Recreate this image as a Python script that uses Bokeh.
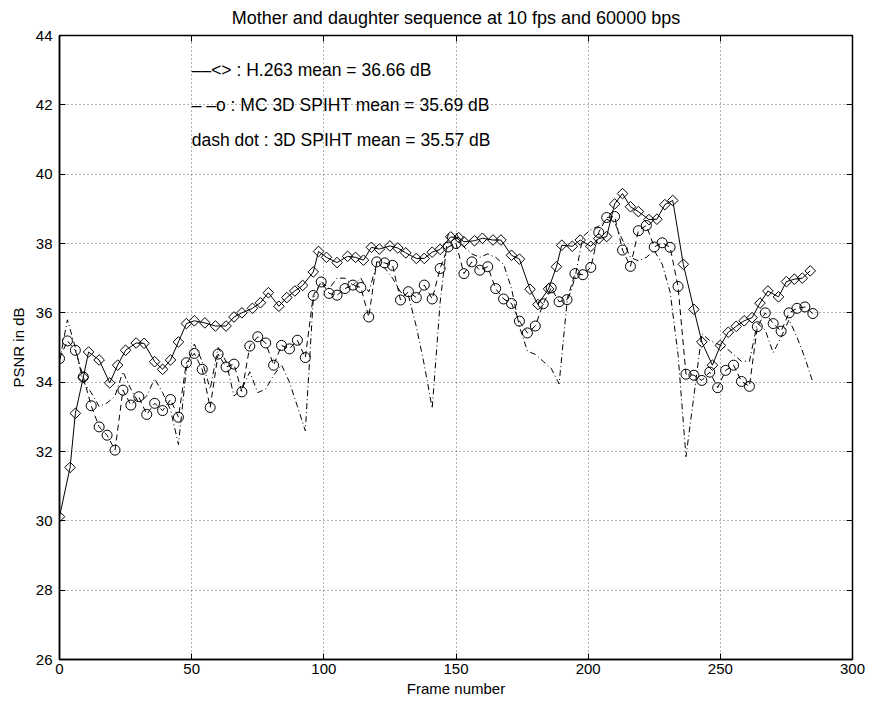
import numpy as np
from bokeh.plotting import figure
from bokeh.models import Range1d, FixedTicker, LinearAxis, ColumnDataSource
from bokeh.embed import file_html
from bokeh.resources import INLINE
from bokeh.core.properties import value

# ---------------- data ----------------
h263_frames = [0, 4, 6, 9, 11, 15, 19, 22, 25, 29, 32, 36, 39, 42, 45, 48, 51, 55, 59, 63,
               66, 69, 73, 76, 79, 83, 86, 89, 92, 96, 98, 101, 105, 109, 112, 115, 118, 121, 125, 128,
               131, 135, 138, 141, 144, 148, 151, 153, 157, 160, 164, 167, 171, 174, 178, 181, 185, 188, 190, 194,
               197, 201, 204, 207, 210, 213, 216, 219, 223, 226, 229, 232, 236, 240, 243, 247, 250, 253, 256, 259,
               262, 265, 268, 272, 275, 278, 281, 284]
h263_psnr = [30.12, 31.54, 33.10, 34.14, 34.87, 34.64, 33.98, 34.49, 34.92, 35.13, 35.12, 34.59, 34.37, 34.64, 35.16, 35.69, 35.77, 35.71, 35.62, 35.62,
             35.88, 36.00, 36.13, 36.29, 36.58, 36.19, 36.44, 36.63, 36.79, 37.18, 37.77, 37.60, 37.45, 37.63, 37.60, 37.52, 37.89, 37.84, 37.93, 37.87,
             37.73, 37.57, 37.57, 37.75, 37.83, 38.19, 38.17, 38.05, 38.08, 38.15, 38.10, 38.10, 37.66, 37.55, 36.68, 36.24, 36.69, 37.33, 37.95, 37.92,
             38.10, 37.92, 38.14, 38.20, 39.14, 39.44, 39.06, 38.92, 38.69, 38.70, 39.12, 39.24, 37.40, 36.10, 35.16, 34.49, 35.06, 35.44, 35.61, 35.77,
             35.86, 36.28, 36.63, 36.46, 36.90, 36.97, 37.00, 37.21]

spiht_frames = [0, 3, 6, 9, 12, 15, 18, 21, 24, 27, 30, 33, 36, 39, 42, 45, 48, 51, 54, 57,
                60, 63, 66, 69, 72, 75, 78, 81, 84, 87, 90, 93, 96, 99, 102, 105, 108, 111, 114, 117,
                120, 123, 126, 129, 132, 135, 138, 141, 144, 147, 150, 153, 156, 159, 162, 165, 168, 171, 174, 177,
                180, 183, 186, 189, 192, 195, 198, 201, 204, 207, 210, 213, 216, 219, 222, 225, 228, 231, 234, 237,
                240, 243, 246, 249, 252, 255, 258, 261, 264, 267, 270, 273, 276, 279, 282, 285]
mc_spiht_psnr = [34.68, 35.19, 34.92, 34.15, 33.32, 32.71, 32.47, 32.04, 33.77, 33.34,
                 33.58, 33.07, 33.39, 33.18, 33.50, 32.99, 34.56, 34.83, 34.37, 33.27,
                 34.81, 34.44, 34.52, 33.72, 35.04, 35.31, 35.13, 34.49, 35.06, 34.96,
                 35.21, 34.71, 36.50, 36.89, 36.56, 36.51, 36.70, 36.80, 36.73, 35.88,
                 37.47, 37.44, 37.37, 36.37, 36.61, 36.44, 36.80, 36.40, 37.28, 37.90,
                 38.00, 37.13, 37.47, 37.23, 37.33, 36.70, 36.40, 36.27, 35.76, 35.42,
                 35.62, 36.26, 36.72, 36.32, 36.38, 37.13, 37.10, 37.31, 38.32, 38.75,
                 38.78, 37.81, 37.34, 38.37, 38.52, 37.90, 38.02, 37.89, 36.76, 34.23,
                 34.20, 34.05, 34.29, 33.84, 34.34, 34.49, 34.02, 33.88, 35.60, 36.00,
                 35.69, 35.47, 36.00, 36.13, 36.17, 35.98]
spiht_psnr = [34.60, 35.80, 35.00, 34.00, 33.70, 33.30, 33.40, 33.60, 34.30, 33.80,
              33.40, 33.60, 34.10, 33.70, 33.20, 32.20, 34.40, 35.10, 34.60, 33.80,
              35.00, 34.60, 33.60, 33.80, 34.30, 33.70, 33.80, 34.20, 34.50, 34.00,
              33.30, 32.60, 36.40, 36.90, 36.70, 37.00, 37.00, 36.80, 37.00, 36.60,
              37.40, 37.30, 37.00, 36.60, 36.50, 35.60, 34.50, 33.24, 36.30, 38.27,
              38.30, 37.90, 37.70, 37.60, 37.70, 37.60, 37.40, 36.70, 35.60, 34.90,
              34.80, 34.60, 34.40, 33.95, 36.30, 37.00, 38.20, 38.40, 38.50, 38.70,
              38.60, 38.10, 37.60, 37.50, 37.60, 37.80, 37.40, 36.60, 34.80, 31.85,
              33.60, 35.40, 35.20, 35.10, 35.00, 34.80, 34.60, 34.60, 35.70, 35.50,
              34.85, 35.30, 35.80, 35.30, 34.70, 34.00]

x_ticks = [0, 50, 100, 150, 200, 250, 300]
y_ticks = [26, 28, 30, 32, 34, 36, 38, 40, 42, 44]

title_text = "Mother and daughter sequence at 10 fps and 60000 bps"
x_label = "Frame number"
y_label = "PSNR in dB"
note_x = [50, 50, 50]
note_y = [43, 42, 41]
note_text = ["\u2013\u2013<> : H.263 mean = 36.66 dB",
             "\u2013 \u2013o : MC 3D SPIHT mean = 35.69 dB",
             "dash dot : 3D SPIHT mean = 35.57 dB"]

FONT = "Liberation Sans"
FS = "15px"

p = figure(width=872, height=710, output_backend="svg", toolbar_location=None,
           x_range=Range1d(0, 300), y_range=Range1d(26, 44),
           min_border_left=59, min_border_right=20, min_border_top=35, min_border_bottom=51,
           background_fill_color="white", border_fill_color="white")

p.title.text = title_text
p.title.align = "center"
p.title.text_font = FONT
p.title.text_font_size = "18px"
p.title.text_font_style = "normal"
p.title.text_color = "black"
p.title.standoff = 11
p.title.vertical_align = "top"
try:
    p.title.text_line_height = 0.7
except Exception:
    pass

p.outline_line_color = "black"
p.outline_line_width = 1.5

for ax in (p.xaxis[0], p.yaxis[0]):
    ax.major_label_text_font = FONT
    ax.major_label_text_font_size = FS
    ax.major_label_text_color = "black"
    ax.axis_label_text_font = FONT
    ax.axis_label_text_font_size = FS
    ax.axis_label_text_font_style = "normal"
    ax.axis_label_text_color = "black"
    ax.major_tick_in = 6
    ax.major_tick_out = 0
    ax.minor_tick_line_color = None
    ax.axis_line_color = "black"
    ax.axis_line_width = 1.5
    ax.major_tick_line_color = "black"

p.xaxis[0].ticker = FixedTicker(ticks=x_ticks)
p.yaxis[0].ticker = FixedTicker(ticks=y_ticks)
p.xaxis[0].axis_label = x_label
p.yaxis[0].axis_label = y_label
p.xaxis[0].major_label_standoff = 4
p.xaxis[0].axis_label_standoff = 3
p.yaxis[0].major_label_standoff = 7
p.yaxis[0].axis_label_standoff = 6

top = LinearAxis(ticker=FixedTicker(ticks=x_ticks), major_label_text_font_size="0px",
                 major_label_text_color=None, major_tick_in=6, major_tick_out=0,
                 minor_tick_line_color=None, major_label_standoff=0, axis_line_color="black")
right = LinearAxis(ticker=FixedTicker(ticks=y_ticks), major_label_text_font_size="0px",
                   major_label_text_color=None, major_tick_in=6, major_tick_out=0,
                   minor_tick_line_color=None, major_label_standoff=0, axis_line_color="black")
p.add_layout(top, "above")
p.add_layout(right, "right")

p.xgrid.ticker = FixedTicker(ticks=x_ticks)
p.ygrid.ticker = FixedTicker(ticks=y_ticks)
for g in (p.xgrid[0], p.ygrid[0]):
    g.grid_line_color = "#000000"
    g.grid_line_alpha = 0.6
    g.grid_line_dash = "1 3"
    g.grid_line_width = 1

# series
p.line(spiht_frames, spiht_psnr, line_color="black", line_width=1, line_dash="6 3 1 3")
p.line(spiht_frames, mc_spiht_psnr, line_color="black", line_width=1, line_dash="6 4")
p.scatter(spiht_frames, mc_spiht_psnr, marker="circle", size=10, fill_color=None,
          line_color="black", line_width=1)
p.line(h263_frames, h263_psnr, line_color="black", line_width=1)
p.scatter(h263_frames, h263_psnr, marker="square", angle=np.pi / 4, size=7.5, fill_color=None,
          line_color="black", line_width=1)

# annotation texts
src = ColumnDataSource(dict(x=note_x, y=note_y, t=note_text))
p.text(x="x", y="y", text="t", source=src, text_font=value(FONT), text_font_size="17.5px",
       text_baseline="middle", text_align="left", text_color="black")

open("out.html", "w").write(file_html(p, INLINE))
